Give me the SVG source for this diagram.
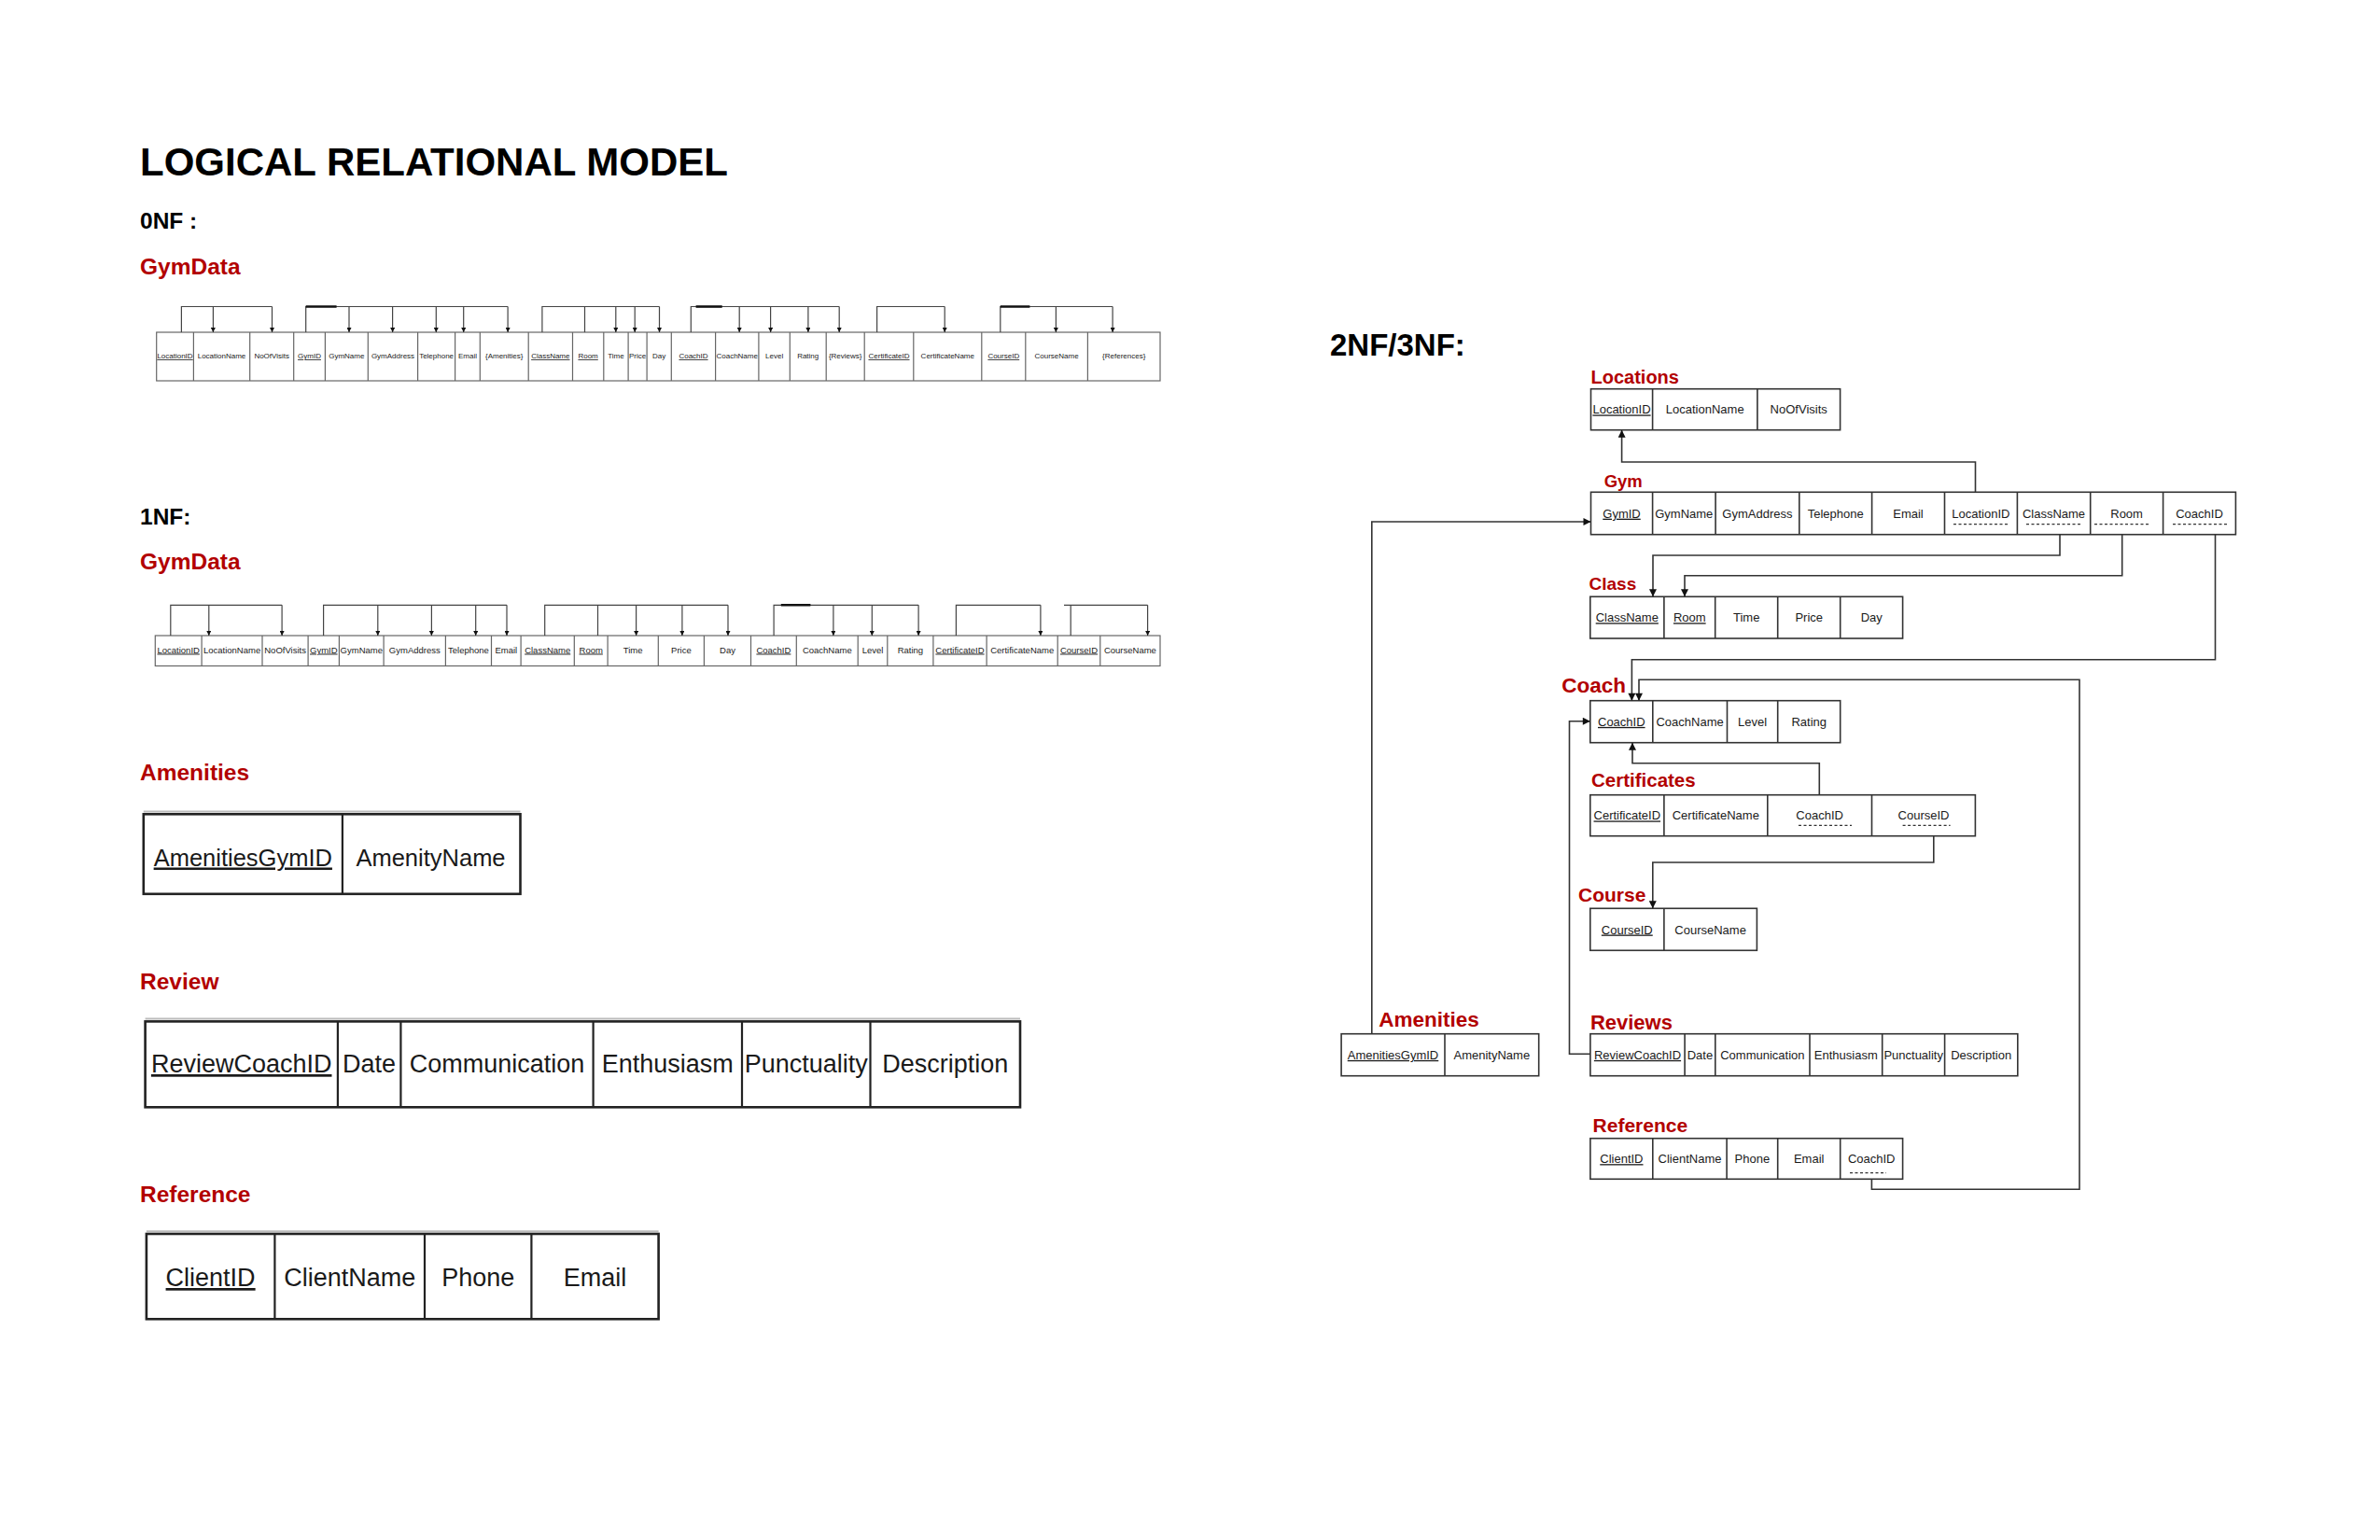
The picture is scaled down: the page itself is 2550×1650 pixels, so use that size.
<svg xmlns="http://www.w3.org/2000/svg" width="2550" height="1650" viewBox="0 0 2550 1650">
<style>
text{font-family:"Liberation Sans",Arial,sans-serif;fill:#1a1a1a}
.h1{font-size:42px;font-weight:bold;fill:#000}
.h2{font-size:24.5px;font-weight:bold;fill:#000}
.lbl{font-size:24.5px;font-weight:bold;fill:#b20000}
.rl{font-weight:bold;fill:#b20000}
.c0{font-size:8px;text-anchor:middle}
.c1{font-size:9.5px;text-anchor:middle}
.c2{font-size:13px;text-anchor:middle}
.c3{font-size:25.5px;text-anchor:middle}
.c4{font-size:27px;text-anchor:middle}
.u{text-decoration:underline}
.tb0{fill:#fff;stroke:#666;stroke-width:1.2}
.d0{stroke:#666;stroke-width:1.2}
.tb2{fill:#fff;stroke:#333;stroke-width:1.6}
.d2{stroke:#333;stroke-width:1.6}
.tb3{fill:#fff;stroke:#222;stroke-width:2.6}
.d3{stroke:#222;stroke-width:2.2}
.sh{stroke:#bbb;stroke-width:2;fill:none}
.dash{stroke:#333;stroke-width:1.3;stroke-dasharray:3 2.5}
.br{fill:none;stroke:#444;stroke-width:1.2}
.bra{fill:none;stroke:#444;stroke-width:1.2;marker-end:url(#as)}
.cn{fill:none;stroke:#333;stroke-width:1.6;marker-end:url(#a)}
.thk{stroke:#111;stroke-width:2.6}
</style>
<defs>
<marker id="a" viewBox="0 0 10 10" refX="10" refY="5" markerWidth="10" markerHeight="8" orient="auto" markerUnits="userSpaceOnUse"><path d="M0,0 L10,5 L0,10 z" fill="#111"/></marker>
<marker id="as" viewBox="0 0 10 10" refX="10" refY="5" markerWidth="6" markerHeight="5" orient="auto" markerUnits="userSpaceOnUse"><path d="M0,0 L10,5 L0,10 z" fill="#111"/></marker>
</defs>
<rect width="2550" height="1650" fill="#fff"/>

<!-- Headings -->
<text class="h1" x="150" y="188">LOGICAL RELATIONAL MODEL</text>
<text class="h2" x="150" y="245">0NF :</text>
<text class="lbl" x="150" y="294">GymData</text>
<text class="h2" x="150" y="562">1NF:</text>
<text class="lbl" x="150" y="610">GymData</text>
<text class="lbl" x="150" y="836">Amenities</text>
<text class="lbl" x="150" y="1060">Review</text>
<text class="lbl" x="150" y="1288">Reference</text>
<text class="h2" x="1425" y="381" style="font-size:33px">2NF/3NF:</text>

<!-- 0NF table -->
<g id="gymdata-0nf">
<rect class="tb0" x="167.7" y="356" width="1075.3" height="52"/>
<path class="d0" d="M207.4,356V408M267.7,356V408M314.7,356V408M348.4,356V408M394.3,356V408M447.6,356V408M487.6,356V408M514.3,356V408M566.2,356V408M613.5,356V408M646.8,356V408M673.1,356V408M693.1,356V408M719.3,356V408M766.6,356V408M812.9,356V408M846.3,356V408M885.2,356V408M926.2,356V408M978.8,356V408M1051.8,356V408M1098.8,356V408M1165.4,356V408"/>
<text class="c0 u" x="187.5" y="384">LocationID</text>
<text class="c0" x="237.5" y="384">LocationName</text>
<text class="c0" x="291.2" y="384">NoOfVisits</text>
<text class="c0 u" x="331.5" y="384">GymID</text>
<text class="c0" x="371.3" y="384">GymName</text>
<text class="c0" x="421" y="384">GymAddress</text>
<text class="c0" x="467.6" y="384">Telephone</text>
<text class="c0" x="501" y="384">Email</text>
<text class="c0" x="540.2" y="384">{Amenities}</text>
<text class="c0 u" x="589.8" y="384">ClassName</text>
<text class="c0 u" x="630.1" y="384">Room</text>
<text class="c0" x="660" y="384">Time</text>
<text class="c0" x="683.1" y="384">Price</text>
<text class="c0" x="706.2" y="384">Day</text>
<text class="c0 u" x="743" y="384">CoachID</text>
<text class="c0" x="789.7" y="384">CoachName</text>
<text class="c0" x="829.6" y="384">Level</text>
<text class="c0" x="865.7" y="384">Rating</text>
<text class="c0" x="905.7" y="384">{Reviews}</text>
<text class="c0 u" x="952.5" y="384">CertificateID</text>
<text class="c0" x="1015.3" y="384">CertificateName</text>
<text class="c0 u" x="1075.3" y="384">CourseID</text>
<text class="c0" x="1132.1" y="384">CourseName</text>
<text class="c0" x="1204.2" y="384">{References}</text>
</g>

<!-- 1NF table -->
<g id="gymdata-1nf">
<rect class="tb0" x="166.3" y="681" width="1076.7" height="32.5"/>
<path class="d0" d="M216.1,681V713.5M281,681V713.5M330.1,681V713.5M363.4,681V713.5M411.1,681V713.5M477.4,681V713.5M526.5,681V713.5M558.1,681V713.5M615.3,681V713.5M651.1,681V713.5M705.3,681V713.5M754.4,681V713.5M804.5,681V713.5M853.3,681V713.5M919.2,681V713.5M950.8,681V713.5M999.9,681V713.5M1057.1,681V713.5M1133.2,681V713.5M1178.8,681V713.5"/>
<text class="c1 u" x="191.2" y="699.5">LocationID</text>
<text class="c1" x="248.6" y="699.5">LocationName</text>
<text class="c1" x="305.6" y="699.5">NoOfVisits</text>
<text class="c1 u" x="346.8" y="699.5">GymID</text>
<text class="c1" x="387.3" y="699.5">GymName</text>
<text class="c1" x="444.3" y="699.5">GymAddress</text>
<text class="c1" x="502" y="699.5">Telephone</text>
<text class="c1" x="542.3" y="699.5">Email</text>
<text class="c1 u" x="586.7" y="699.5">ClassName</text>
<text class="c1 u" x="633.2" y="699.5">Room</text>
<text class="c1" x="678.2" y="699.5">Time</text>
<text class="c1" x="729.9" y="699.5">Price</text>
<text class="c1" x="779.5" y="699.5">Day</text>
<text class="c1 u" x="828.9" y="699.5">CoachID</text>
<text class="c1" x="886.3" y="699.5">CoachName</text>
<text class="c1" x="935" y="699.5">Level</text>
<text class="c1" x="975.4" y="699.5">Rating</text>
<text class="c1 u" x="1028.5" y="699.5">CertificateID</text>
<text class="c1" x="1095.2" y="699.5">CertificateName</text>
<text class="c1 u" x="1156" y="699.5">CourseID</text>
<text class="c1" x="1210.9" y="699.5">CourseName</text>
</g>

<!-- Left Amenities -->
<g id="amenities-left">
<path class="sh" d="M153.8,869.5H557.5"/>
<rect class="tb3" x="153.8" y="872.3" width="403.7" height="85.5"/>
<path class="d3" d="M366.9,872.3V957.8"/>
<text class="c3 u" x="260.3" y="927.5">AmenitiesGymID</text>
<text class="c3" x="461.5" y="927.5">AmenityName</text>
</g>

<!-- Left Review -->
<g id="review-left">
<path class="sh" d="M155.6,1091.6H1093"/>
<rect class="tb3" x="155.6" y="1094.4" width="937.4" height="91.9"/>
<path class="d3" d="M361.9,1094.4V1186.3M429.4,1094.4V1186.3M635.6,1094.4V1186.3M795,1094.4V1186.3M932.5,1094.4V1186.3"/>
<text class="c4 u" x="258.7" y="1149">ReviewCoachID</text>
<text class="c4" x="395.6" y="1149">Date</text>
<text class="c4" x="532.5" y="1149">Communication</text>
<text class="c4" x="715.3" y="1149">Enthusiasm</text>
<text class="c4" x="863.7" y="1149">Punctuality</text>
<text class="c4" x="1012.7" y="1149">Description</text>
</g>

<!-- Left Reference -->
<g id="reference-left">
<path class="sh" d="M156.9,1319.2H705.6"/>
<rect class="tb3" x="156.9" y="1322" width="548.7" height="91.3"/>
<path class="d3" d="M294.4,1322V1413.3M455,1322V1413.3M569.4,1322V1413.3"/>
<text class="c4 u" x="225.6" y="1378">ClientID</text>
<text class="c4" x="374.7" y="1378">ClientName</text>
<text class="c4" x="512.2" y="1378">Phone</text>
<text class="c4" x="637.5" y="1378">Email</text>
</g>

<!-- 2NF/3NF nodes -->
<g id="locations">
<text class="rl" x="1704.5" y="410.7" style="font-size:20px">Locations</text>
<rect class="tb2" x="1704.5" y="416.7" width="267.1" height="44"/>
<path class="d2" d="M1770.6,416.7V460.7M1882.9,416.7V460.7"/>
<text class="c2 u" x="1737.5" y="443.4">LocationID</text>
<text class="c2" x="1826.7" y="443.4">LocationName</text>
<text class="c2" x="1927.2" y="443.4">NoOfVisits</text>
</g>

<g id="gym">
<text class="rl" x="1718.7" y="521.7" style="font-size:18.5px">Gym</text>
<rect class="tb2" x="1704.5" y="527.3" width="690.9" height="45.4"/>
<path class="d2" d="M1770.6,527.3V572.7M1838.1,527.3V572.7M1927.8,527.3V572.7M2005.6,527.3V572.7M2083.5,527.3V572.7M2161.4,527.3V572.7M2239.7,527.3V572.7M2317.6,527.3V572.7"/>
<text class="c2 u" x="1737.5" y="554.7">GymID</text>
<text class="c2" x="1804.3" y="554.7">GymName</text>
<text class="c2" x="1882.9" y="554.7">GymAddress</text>
<text class="c2" x="1966.7" y="554.7">Telephone</text>
<text class="c2" x="2044.5" y="554.7">Email</text>
<text class="c2" x="2122.4" y="554.7">LocationID</text>
<text class="c2" x="2200.5" y="554.7">ClassName</text>
<text class="c2" x="2278.6" y="554.7">Room</text>
<text class="c2" x="2356.5" y="554.7">CoachID</text>
<path class="dash" d="M2093,561.7H2152M2171,561.7H2229M2244,561.7H2303M2328,561.7H2386"/>
</g>

<g id="class">
<text class="rl" x="1702.5" y="632" style="font-size:19px">Class</text>
<rect class="tb2" x="1703.8" y="639.3" width="334.8" height="44.7"/>
<path class="d2" d="M1782.9,639.3V684M1837.7,639.3V684M1904.7,639.3V684M1971.7,639.3V684"/>
<text class="c2 u" x="1743.3" y="666.3">ClassName</text>
<text class="c2 u" x="1810.3" y="666.3">Room</text>
<text class="c2" x="1871.2" y="666.3">Time</text>
<text class="c2" x="1938.2" y="666.3">Price</text>
<text class="c2" x="2005.2" y="666.3">Day</text>
</g>

<g id="coach">
<text class="rl" x="1673.2" y="741.7" style="font-size:22.5px">Coach</text>
<rect class="tb2" x="1703.8" y="750.7" width="267.9" height="45"/>
<path class="d2" d="M1770.8,750.7V795.7M1850.5,750.7V795.7M1904.7,750.7V795.7"/>
<text class="c2 u" x="1737.3" y="777.9">CoachID</text>
<text class="c2" x="1810.6" y="777.9">CoachName</text>
<text class="c2" x="1877.6" y="777.9">Level</text>
<text class="c2" x="1938.2" y="777.9">Rating</text>
</g>

<g id="certificates">
<text class="rl" x="1705" y="843.3" style="font-size:20.5px">Certificates</text>
<rect class="tb2" x="1703.8" y="851.7" width="412.6" height="44"/>
<path class="d2" d="M1782.9,851.7V895.7M1893.8,851.7V895.7M2005.5,851.7V895.7"/>
<text class="c2 u" x="1743.3" y="878.4">CertificateID</text>
<text class="c2" x="1838.3" y="878.4">CertificateName</text>
<text class="c2" x="1949.6" y="878.4">CoachID</text>
<text class="c2" x="2061" y="878.4">CourseID</text>
<path class="dash" d="M1927,884.3H1984M2038.6,884.3H2089.6"/>
</g>

<g id="course">
<text class="rl" x="1691" y="966" style="font-size:21px">Course</text>
<rect class="tb2" x="1703.8" y="973.3" width="178.6" height="45"/>
<path class="d2" d="M1782.9,973.3V1018.3"/>
<text class="c2 u" x="1743.3" y="1000.5">CourseID</text>
<text class="c2" x="1832.6" y="1000.5">CourseName</text>
</g>

<g id="amenities">
<text class="rl" x="1477.3" y="1100" style="font-size:22.5px">Amenities</text>
<rect class="tb2" x="1437.1" y="1107.7" width="211.6" height="45"/>
<path class="d2" d="M1548,1107.7V1152.7"/>
<text class="c2 u" x="1492.5" y="1134.9">AmenitiesGymID</text>
<text class="c2" x="1598.3" y="1134.9">AmenityName</text>
</g>

<g id="reviews">
<text class="rl" x="1703.9" y="1102.7" style="font-size:22px">Reviews</text>
<rect class="tb2" x="1703.9" y="1107.7" width="457.9" height="45"/>
<path class="d2" d="M1805.1,1107.7V1152.7M1837.8,1107.7V1152.7M1939,1107.7V1152.7M2016.7,1107.7V1152.7M2083.6,1107.7V1152.7"/>
<text class="c2 u" x="1754.5" y="1134.9">ReviewCoachID</text>
<text class="c2" x="1821.4" y="1134.9">Date</text>
<text class="c2" x="1888.4" y="1134.9">Communication</text>
<text class="c2" x="1977.8" y="1134.9">Enthusiasm</text>
<text class="c2" x="2050.2" y="1134.9">Punctuality</text>
<text class="c2" x="2122.7" y="1134.9">Description</text>
</g>

<g id="reference">
<text class="rl" x="1706.6" y="1213.3" style="font-size:21px">Reference</text>
<rect class="tb2" x="1703.9" y="1219.7" width="334.7" height="43.6"/>
<path class="d2" d="M1770.8,1219.7V1263.3M1850.1,1219.7V1263.3M1904.7,1219.7V1263.3M1971.7,1219.7V1263.3"/>
<text class="c2 u" x="1737.4" y="1246.2">ClientID</text>
<text class="c2" x="1810.5" y="1246.2">ClientName</text>
<text class="c2" x="1877.4" y="1246.2">Phone</text>
<text class="c2" x="1938.2" y="1246.2">Email</text>
<text class="c2" x="2005.2" y="1246.2">CoachID</text>
<path class="dash" d="M1982,1256.7H2021"/>
</g>

<!-- Connectors -->
<g id="connectors">
<!-- 0NF dependency brackets -->
<path class="br" d="M194.4,356V328.5H291.5"/>
<path class="bra" d="M228.4,328.5V356"/><path class="bra" d="M291.5,328.5V356"/>
<path class="br" d="M327.7,356V328.5H544.1"/>
<path class="thk" d="M327.7,328.5H360.6"/>
<path class="bra" d="M374,328.5V356"/><path class="bra" d="M420.6,328.5V356"/><path class="bra" d="M467.3,328.5V356"/><path class="bra" d="M496.7,328.5V356"/><path class="bra" d="M544.1,328.5V356"/>
<path class="br" d="M580.9,356V328.5H706.5M626.5,328.5V356"/>
<path class="bra" d="M659.8,328.5V356"/><path class="bra" d="M680.2,328.5V356"/><path class="bra" d="M706.5,328.5V356"/>
<path class="br" d="M740.3,356V328.5H899.2"/>
<path class="thk" d="M745.6,328.5H773.7"/>
<path class="bra" d="M792.2,328.5V356"/><path class="bra" d="M825.6,328.5V356"/><path class="bra" d="M865.9,328.5V356"/><path class="bra" d="M899.2,328.5V356"/>
<path class="br" d="M939.6,356V328.5H1012.2"/>
<path class="bra" d="M1012.2,328.5V356"/>
<path class="br" d="M1071.8,356V328.5H1192.1"/>
<path class="thk" d="M1071.8,328.5H1103.4"/>
<path class="bra" d="M1131.4,328.5V356"/><path class="bra" d="M1192.1,328.5V356"/>

<!-- 1NF dependency brackets -->
<path class="br" d="M182.8,681V648.3H302.1"/>
<path class="bra" d="M223.8,648.3V681"/><path class="bra" d="M302.1,648.3V681"/>
<path class="br" d="M346.6,681V648.3H543"/>
<path class="bra" d="M404.8,648.3V681"/><path class="bra" d="M462.4,648.3V681"/><path class="bra" d="M509.7,648.3V681"/><path class="bra" d="M543,648.3V681"/>
<path class="br" d="M583.7,681V648.3H780M640.5,648.3V681"/>
<path class="bra" d="M681.6,648.3V681"/><path class="bra" d="M730.9,648.3V681"/><path class="bra" d="M780,648.3V681"/>
<path class="br" d="M829.1,681V648.3H984.1"/>
<path class="thk" d="M836.8,648.3H868.4"/>
<path class="bra" d="M892.9,648.3V681"/><path class="bra" d="M934.3,648.3V681"/><path class="bra" d="M984.1,648.3V681"/>
<path class="br" d="M1024.4,681V648.3H1114.9"/>
<path class="bra" d="M1114.9,648.3V681"/>
<path class="br" d="M1147.2,681V648.3M1140,648.3H1229.6"/>
<path class="bra" d="M1229.6,648.3V681"/>

<!-- 2NF/3NF references -->
<path class="cn" d="M2116.5,527.3V495H1737.6V460.7"/>
<path class="cn" d="M2207,572.7V595H1771V639.3"/>
<path class="cn" d="M2273.7,572.7V616.7H1805V639.3"/>
<path class="cn" d="M2373.5,572.7V706.7H1748.4V750.7"/>
<path class="cn" d="M2005.4,1263.3V1274.3H2228V728.3H1756V750.7"/>
<path class="cn" d="M1949.3,851.7V817.7H1749V795.7"/>
<path class="cn" d="M2071.8,895.7V924H1770.8V973.3"/>
<path class="cn" d="M1703.9,1129.3H1681.5V772.7H1703.8"/>
<path class="cn" d="M1469.8,1107.7V559H1704.5"/>
</g>
</svg>
